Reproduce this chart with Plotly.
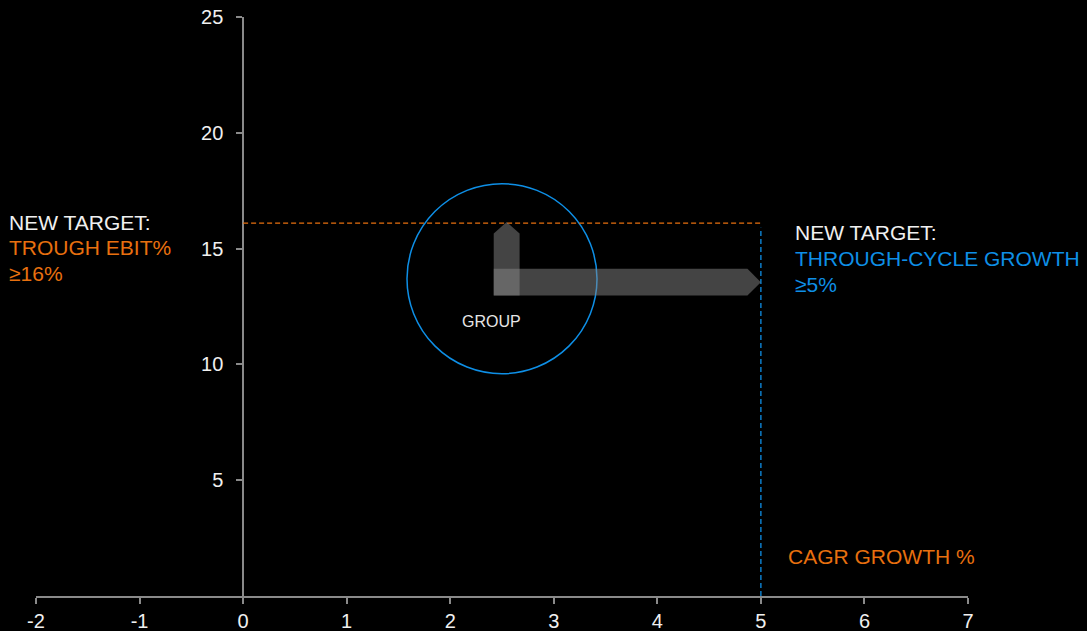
import plotly.graph_objects as go

# ---- data ----
x_ticks = [-2, -1, 0, 1, 2, 3, 4, 5, 6, 7]
y_ticks = [5, 10, 15, 20, 25]
group_label = ["GROUP"]
group_x = [2.5]
group_y = [13.7]
ebit_target = 16.1          # trough EBIT % target line
growth_target = 5.0         # through-cycle growth target line
arrow_base_x = 2.42
arrow_base_y = 12.97
ebit_arrow_tip = 16.15
growth_arrow_tip = 5.0

# ---- styles ----
ORANGE = "#E8700F"
BLUE = "#0E8FE6"
AXIS = "#8a8a8a"
FONT = "Liberation Sans, Arial, sans-serif"
W, H = 1087, 631
ML, MR, MT, MB = 36, 119, 17, 35
PW, PH = W - ML - MR, H - MT - MB


def px(x):
    return (x - ML) / PW


def py(y):
    return (H - MB - y) / PH


fig = go.Figure()

# bubble
fig.add_trace(go.Scatter(
    x=group_x, y=group_y, mode="markers",
    marker=dict(size=190, color="rgba(0,0,0,0)", line=dict(color=BLUE, width=1.5)),
    hoverinfo="skip", showlegend=False, cliponaxis=False))

shapes = []
# target lines
shapes.append(dict(type="line", xref="x", yref="y", x0=0, x1=growth_target,
                   y0=ebit_target, y1=ebit_target,
                   line=dict(color=ORANGE, width=1.3, dash="5px,3px")))
shapes.append(dict(type="line", xref="x", yref="y", x0=growth_target, x1=growth_target,
                   y0=0, y1=ebit_target - 0.2,
                   line=dict(color=BLUE, width=1.3, dash="5px,3px")))

# arrows
vw = 0.25      # vertical arrow width (x units)
hh = 1.16      # horizontal arrow height (y units)
head_v = 0.5   # head length in y units
head_h = 0.13  # head length in x units
fill = "rgba(136,136,136,0.5)"

x0, y0 = arrow_base_x, arrow_base_y
vpath = (f"M {x0},{y0} L {x0 + vw},{y0} L {x0 + vw},{ebit_arrow_tip - head_v} "
         f"L {x0 + vw / 2},{ebit_arrow_tip} L {x0},{ebit_arrow_tip - head_v} Z")
hpath = (f"M {x0},{y0} L {growth_arrow_tip - head_h},{y0} L {growth_arrow_tip},{y0 + hh / 2} "
         f"L {growth_arrow_tip - head_h},{y0 + hh} L {x0},{y0 + hh} Z")
shapes.append(dict(type="path", xref="x", yref="y", path=vpath, fillcolor=fill,
                   line=dict(width=0), layer="above"))
shapes.append(dict(type="path", xref="x", yref="y", path=hpath, fillcolor=fill,
                   line=dict(width=0), layer="above"))

annotations = [
    dict(x=2.40, y=11.84, xref="x", yref="y", text=group_label[0], showarrow=False,
         font=dict(size=16, color="#e6e6e6", family=FONT)),
]


def txt(text, x, y, color):
    return dict(x=px(x), y=py(y), xref="paper", yref="paper", text=text,
                showarrow=False, xanchor="left", yanchor="middle",
                font=dict(size=21, color=color, family=FONT))


annotations += [
    txt("NEW TARGET:", 7, 222, "#f0f0f0"),
    txt("TROUGH EBIT%", 7, 248, ORANGE),
    txt("≥16%", 7, 274, ORANGE),
    txt("NEW TARGET:", 793, 232, "#f0f0f0"),
    txt("THROUGH-CYCLE GROWTH", 793, 258, BLUE),
    txt("≥5%", 793, 284, BLUE),
    txt("CAGR GROWTH %", 786, 556, ORANGE),
]

fig.update_layout(
    width=W, height=H,
    margin=dict(l=ML, r=MR, t=MT, b=MB, pad=0, autoexpand=False),
    paper_bgcolor="black", plot_bgcolor="black",
    showlegend=False,
    shapes=shapes, annotations=annotations,
    xaxis=dict(range=[-2, 7], tickvals=x_ticks, ticktext=[str(v) for v in x_ticks],
               automargin=False,
               showgrid=False, zeroline=False, showline=True, linecolor=AXIS, linewidth=1.5,
               ticks="outside", ticklen=6, tickcolor=AXIS, tickwidth=1.5,
               tickfont=dict(size=20, color="#f0f0f0", family=FONT)),
    yaxis=dict(range=[0, 25], tickvals=y_ticks, anchor="free", position=2 / 9,
               automargin=False, ticklabelstandoff=9,
               showgrid=False, zeroline=False, showline=True, linecolor=AXIS, linewidth=1.5,
               ticks="outside", ticklen=6, tickcolor=AXIS, tickwidth=1.5,
               tickfont=dict(size=20, color="#f0f0f0", family=FONT)),
)

fig.write_html("out.html")
